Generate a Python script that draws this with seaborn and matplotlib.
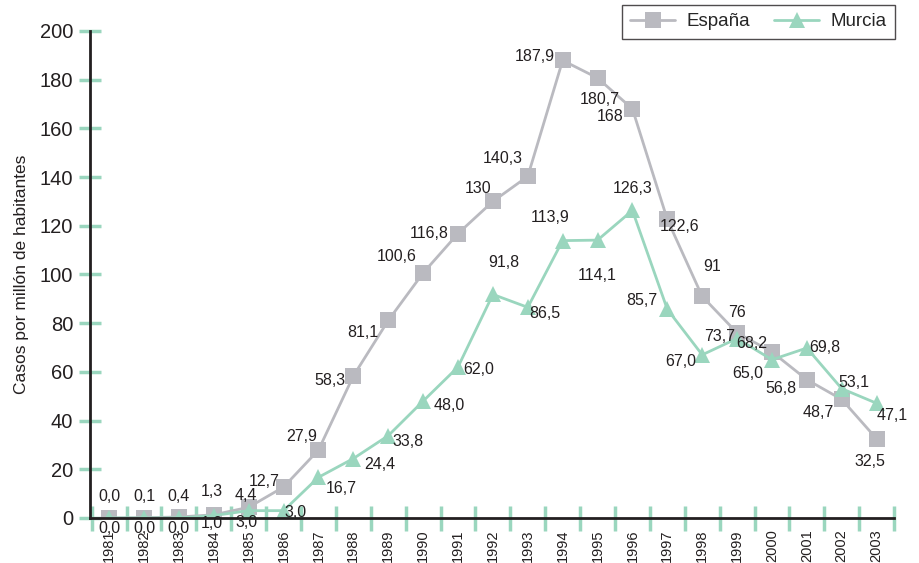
import pandas as pd
import matplotlib.pyplot as plt
import seaborn as sns

anios = [str(a) for a in range(1981, 2004)]

espana_txt = ['0,0', '0,1', '0,4', '1,3', '4,4', '12,7', '27,9', '58,3', '81,1', '100,6',
              '116,8', '130', '140,3', '187,9', '180,7', '168', '122,6', '91', '76', '68,2',
              '56,8', '48,7', '32,5']
murcia_txt = ['0,0', '0,0', '0,0', '1,0', '3,0', '3,0', '16,7', '24,4', '33,8', '48,0',
              '62,0', '91,8', '86,5', '113,9', '114,1', '126,3', '85,7', '67,0', '73,7', '65,0',
              '69,8', '53,1', '47,1']

espana = [float(s.replace(',', '.')) for s in espana_txt]
murcia = [float(s.replace(',', '.')) for s in murcia_txt]

# label offsets in pixels (dx, dy up)
off_esp = [(0, 21), (0, 21), (0, 20), (-2, 23), (-3, 12), (-19, 6), (-17, 14), (-23, -4),
           (-25, -12), (-26, 17), (-29, 0), (-15, 13), (-25, 18), (-28, 4), (2, -22),
           (-22, -8), (12, -7), (10, 30), (0, 20), (-20, 8), (-26, -9), (-23, -13), (-7, -23)]
off_mur = [(0, -11), (0, -11), (0, -11), (-2, -8), (-2, -12), (12, -2), (23, -11), (26, -6),
           (20, -6), (26, -4), (21, -3), (11, 32), (17, -6), (-13, 23), (0, -35), (0, 22),
           (-25, 9), (-21, -7), (-17, 2), (-24, -14), (18, 0), (12, 6), (16, -12)]

gris = '#BABAC0'
verde = '#9AD6BE'

df = pd.DataFrame({
    'pos': list(range(len(anios))) * 2,
    'valor': espana + murcia,
    'serie': ['España'] * len(anios) + ['Murcia'] * len(anios),
})

sns.set_style('white')
plt.rcParams['font.family'] = ['Liberation Sans', 'DejaVu Sans']

fig = plt.figure(figsize=(9.2, 5.63), dpi=100)
ax = fig.add_axes([0.0978, 0.080, 0.874, 0.865])

sns.lineplot(
    data=df, x='pos', y='valor', hue='serie', style='serie',
    palette={'España': gris, 'Murcia': verde},
    markers={'España': 's', 'Murcia': '^'}, dashes=False,
    markersize=11, markeredgewidth=0, linewidth=2, ax=ax
)

for i in range(len(anios)):
    ax.annotate(espana_txt[i], (i, espana[i]), xytext=off_esp[i], textcoords='offset pixels',
                ha='center', va='center', fontsize=11.5, color='#231F20')
    ax.annotate(murcia_txt[i], (i, murcia[i]), xytext=off_mur[i], textcoords='offset pixels',
                ha='center', va='center', fontsize=11.5, color='#231F20')

ax.set_xlim(-0.55, len(anios) - 0.5)
ax.set_ylim(0, 200)
ax.set_yticks(range(0, 201, 20))
ax.tick_params(axis='y', left=True, direction='inout', length=16, width=2.5, color=verde,
               labelsize=14.5, pad=4, labelcolor='#231F20')
ax.set_xticks(range(len(anios)))
ax.set_xticklabels(anios, rotation=90, fontsize=10.5, color='#231F20')
ax.tick_params(axis='x', which='major', bottom=True, length=0, pad=8)
ax.set_xticks([i - 0.5 for i in range(len(anios) + 1)], minor=True)
ax.tick_params(axis='x', which='minor', bottom=True, direction='inout', length=18, width=2.5,
               color=verde)

for s in ['top', 'right']:
    ax.spines[s].set_visible(False)
for s in ['left', 'bottom']:
    ax.spines[s].set_color('#231F20')
    ax.spines[s].set_linewidth(2)

ax.set_xlabel('')
ax.set_ylabel('Casos por millón de habitantes', fontsize=12.5, labelpad=8, color='#231F20')

leg = ax.legend(loc='upper right', bbox_to_anchor=(0.973, 0.992), bbox_transform=fig.transFigure,
                ncol=2, fontsize=13.5, frameon=True, fancybox=False, handlelength=2.4,
                handletextpad=0.6, columnspacing=1.3, borderpad=0.45, borderaxespad=0, title=None)
leg.get_frame().set_edgecolor('#231F20')
leg.get_frame().set_linewidth(1)

fig.savefig('out.png', dpi=100)
